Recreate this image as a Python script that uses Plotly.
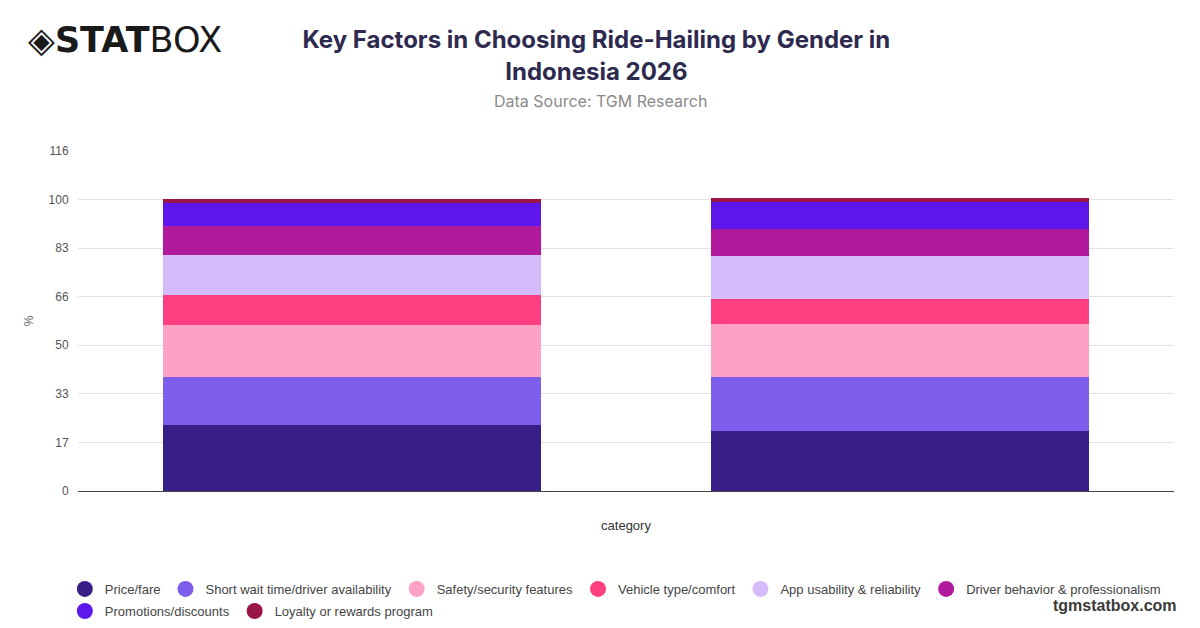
import plotly.graph_objects as go

# Data
groups = ['Male', 'Female']
factors = [
    'Price/fare',
    'Short wait time/driver availability',
    'Safety/security features',
    'Vehicle type/comfort',
    'App usability & reliability',
    'Driver behavior & professionalism',
    'Promotions/discounts',
    'Loyalty or rewards program',
]
price_fare = [22.6, 20.7]
short_wait = [16.6, 18.3]
safety = [17.8, 18.4]
vehicle = [10.1, 8.6]
app_usability = [13.8, 14.6]
driver_behavior = [10.1, 9.4]
promotions = [7.7, 9.3]
loyalty = [1.4, 1.1]

series = [price_fare, short_wait, safety, vehicle,
          app_usability, driver_behavior, promotions, loyalty]

colors = ['#381E87', '#7D5DEB', '#FDA2C4', '#FF3F80',
          '#D5BBFB', '#B21A9E', '#5E17EA', '#9B1648']

y_ticks = [0, 17, 33, 50, 66, 83, 100, 116]
y_max = 700 / 6  # 116.67, seven equal steps

fig = go.Figure()

for name, vals, col in zip(factors, series, colors):
    fig.add_trace(go.Bar(
        x=groups, y=vals, name=name,
        marker=dict(color=col, line=dict(width=0)),
        showlegend=False,
        hovertemplate='%{x}<br>' + name + ': %{y}%<extra></extra>',
    ))

# legend entries with round markers, split in two rows (two legends)
for i, (name, col) in enumerate(zip(factors, colors)):
    fig.add_trace(go.Scatter(
        x=[None], y=[None], mode='markers', name=name,
        marker=dict(color=col, size=16, symbol='circle'),
        legend='legend' if i < 6 else 'legend2',
    ))

legend_style = dict(
    orientation='h', xanchor='left', yanchor='top',
    font=dict(size=13, color='#444444'),
    traceorder='normal', itemsizing='trace', tracegroupgap=0,
    bgcolor='rgba(0,0,0,0)',
)

fig.update_layout(
    width=1200, height=628,
    barmode='stack',
    bargap=0.31,
    plot_bgcolor='white',
    paper_bgcolor='white',
    margin=dict(l=78, r=26, t=151, b=137, autoexpand=False),
    font=dict(family='Liberation Sans, Arial, sans-serif', color='#555555', size=12),
    title=dict(
        text='<b>Key Factors in Choosing Ride-Hailing by Gender in<br>Indonesia 2026</b>',
        x=0.497, xanchor='center', y=0.923, yanchor='top',
        font=dict(family='Inter, Liberation Sans, sans-serif', size=24, color='#2E2A4F'),
    ),
    xaxis=dict(
        title=dict(text='category', font=dict(size=13, color='#333333'), standoff=29),
        showticklabels=False, showgrid=False, zeroline=False,
        showline=True, linecolor='#444444', linewidth=1,
    ),
    yaxis=dict(
        title=dict(text='%', font=dict(size=12, color='#666666'), standoff=12),
        range=[0, y_max],
        tickvals=[i * y_max / 7 for i in range(len(y_ticks))],
        ticktext=[str(t) for t in y_ticks],
        tickfont=dict(size=12, color='#555555'),
        showgrid=True, gridcolor='#E2E2E2', gridwidth=1,
        zeroline=False, ticks='outside', ticklen=6, tickcolor='rgba(0,0,0,0)',
    ),
    legend=dict(x=-0.012, y=-0.244, **legend_style),
    legend2=dict(x=-0.012, y=-0.309, **legend_style),
    annotations=[
        dict(text='Data Source: TGM Research', xref='paper', yref='paper',
             x=0.477, y=1.147, xanchor='center', yanchor='middle', showarrow=False,
             font=dict(size=16, color='#8A8A8A', family='Inter, Liberation Sans, sans-serif')),
        dict(text='<b>◈STAT</b>BOX', xref='paper', yref='paper',
             x=-0.047, y=1.326, xanchor='left', yanchor='middle', showarrow=False,
             font=dict(size=35, color='#1A1A1A', family='DejaVu Sans, sans-serif')),
        dict(text='<b>tgmstatbox.com</b>', xref='paper', yref='paper',
             x=1.005, y=-0.338, xanchor='right', yanchor='middle', showarrow=False,
             font=dict(size=16, color='#3A3A3A', family='Liberation Sans, Arial, sans-serif')),
    ],
)

fig.write_html('out.html', config={'displayModeBar': False},
               post_script="document.body.style.margin='0';")
